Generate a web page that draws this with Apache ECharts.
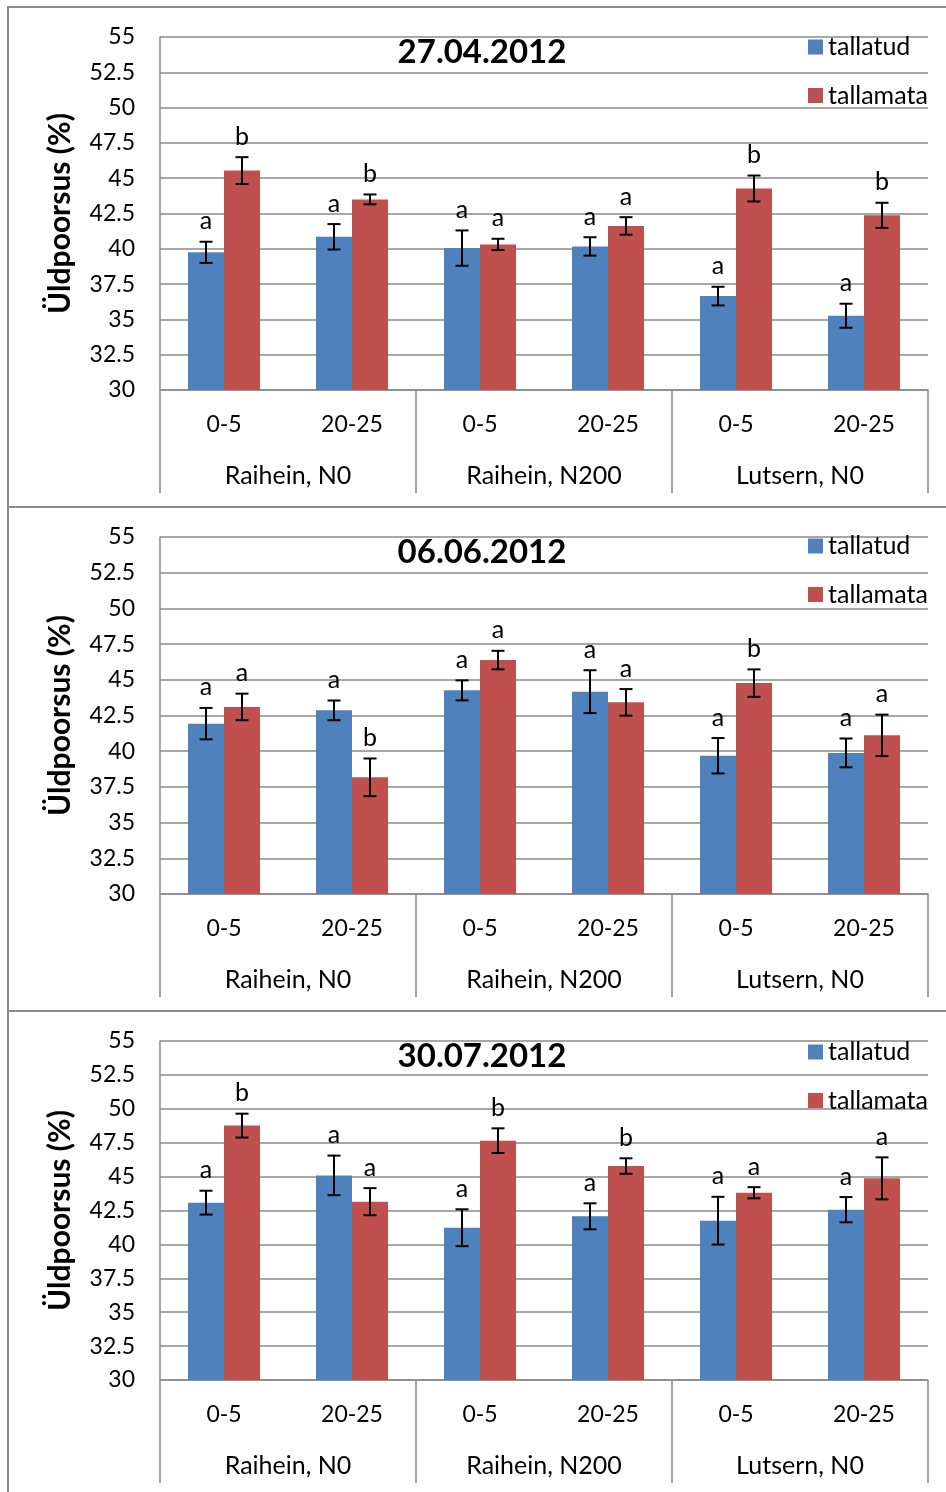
<!DOCTYPE html>
<html>
<head>
<meta charset="utf-8">
<title>Üldpoorsus</title>
<script src="https://cdn.jsdelivr.net/npm/echarts@6/dist/echarts.min.js"></script>
<style>
  html, body { margin: 0; padding: 0; background: #ffffff; }
  #chart { width: 946px; height: 1492px; }
</style>
</head>
<body>
<div id="chart"></div>
<script>
// ---- data ---------------------------------------------------------------
const depths = ['0-5', '20-25', '0-5', '20-25', '0-5', '20-25'];
const treatments = ['Raihein, N0', 'Raihein, N200', 'Lutsern, N0'];
const dates = ['27.04.2012', '06.06.2012', '30.07.2012'];
const seriesNames = ['tallatud', 'tallamata'];
const yTicks = [30, 32.5, 35, 37.5, 40, 42.5, 45, 47.5, 50, 52.5, 55];
const yTitle = 'Üldpoorsus (%)';

// 27.04.2012
const aprTallatud = [39.75, 40.85, 40.05, 40.17, 36.65, 35.26];
const aprTallatudErr = [0.75, 0.9, 1.25, 0.65, 0.66, 0.85];
const aprTallatudSig = ['a', 'a', 'a', 'a', 'a', 'a'];
const aprTallamata = [45.54, 43.5, 40.31, 41.62, 44.27, 42.37];
const aprTallamataErr = [0.95, 0.35, 0.4, 0.62, 0.92, 0.89];
const aprTallamataSig = ['b', 'b', 'a', 'a', 'b', 'b'];

// 06.06.2012
const junTallatud = [41.93, 42.86, 44.26, 44.17, 39.68, 39.88];
const junTallatudErr = [1.1, 0.69, 0.7, 1.5, 1.24, 1.01];
const junTallatudSig = ['a', 'a', 'a', 'a', 'a', 'a'];
const junTallamata = [43.1, 38.17, 46.38, 43.42, 44.77, 41.11];
const junTallamataErr = [0.93, 1.32, 0.65, 0.93, 0.96, 1.45];
const junTallamataSig = ['a', 'b', 'a', 'a', 'b', 'a'];

// 30.07.2012
const julTallatud = [43.08, 45.09, 41.23, 42.07, 41.75, 42.56];
const julTallatudErr = [0.88, 1.46, 1.36, 0.96, 1.76, 0.93];
const julTallatudSig = ['a', 'a', 'a', 'a', 'a', 'a'];
const julTallamata = [48.76, 43.15, 47.65, 45.78, 43.81, 44.87];
const julTallamataErr = [0.88, 1.0, 0.91, 0.57, 0.41, 1.55];
const julTallamataSig = ['b', 'a', 'b', 'b', 'a', 'a'];

// ---- layout & style -----------------------------------------------------
const FONT = 'Lato';
const NUM_SIZE = 23;   // tick and depth labels
const WORD_SIZE = 25;  // legend, treatment labels, letters
const BAR_W = 36;
const COLORS = ['#4F81BD', '#C0504D'];
const LINE = '#8a8a8a';

const panels = [
  { date: dates[0], top: 37,   height: 353, legendTop: 34,
    series: [[aprTallatud, aprTallatudErr, aprTallatudSig], [aprTallamata, aprTallamataErr, aprTallamataSig]] },
  { date: dates[1], top: 537,  height: 357, legendTop: 533,
    series: [[junTallatud, junTallatudErr, junTallatudSig], [junTallamata, junTallamataErr, junTallamataSig]] },
  { date: dates[2], top: 1041, height: 339, legendTop: 1039,
    series: [[julTallatud, julTallatudErr, julTallatudSig], [julTallamata, julTallamataErr, julTallamataSig]] }
];
const frames = [[7, 507], [507, 1011], [1011, 1530]];

// error bar + significance letter drawn at the bar's offset inside its band
function errorBars(sigs, side) {
  return function (params, api) {
    const i = params.dataIndex;
    const m = api.value(1), e = api.value(2);
    const hi = api.coord([i, m + e]);
    const lo = api.coord([i, m - e]);
    const x = hi[0] + side * BAR_W / 2;
    const stroke = { stroke: '#000', lineWidth: 2 };
    return {
      type: 'group',
      children: [
        { type: 'line', shape: { x1: x, y1: hi[1], x2: x, y2: lo[1] }, style: stroke },
        { type: 'line', shape: { x1: x - 6.5, y1: hi[1], x2: x + 6.5, y2: hi[1] }, style: stroke },
        { type: 'line', shape: { x1: x - 6.5, y1: lo[1], x2: x + 6.5, y2: lo[1] }, style: stroke },
        { type: 'text', x: x, y: hi[1] - 8,
          style: { text: sigs[i], align: 'center', verticalAlign: 'bottom',
                   font: WORD_SIZE + 'px ' + FONT, fill: '#000' } }
      ]
    };
  };
}

const grid = [], xAxis = [], yAxis = [], series = [], legend = [], graphic = [];

panels.forEach((p, k) => {
  grid.push({ left: 160, width: 768, top: p.top, height: p.height });

  // depth labels
  xAxis.push({
    type: 'category', gridIndex: k, data: depths, position: 'bottom',
    axisLine: { show: true, lineStyle: { color: LINE, width: 1.5 } },
    axisTick: { show: false },
    axisLabel: { margin: 23, color: '#000', fontFamily: FONT, fontSize: NUM_SIZE, interval: 0 }
  });
  // treatment labels with separators
  xAxis.push({
    type: 'category', gridIndex: k, data: treatments, position: 'bottom',
    axisLine: { show: false },
    axisTick: { show: true, length: 103, interval: 0, lineStyle: { color: LINE, width: 1.5 } },
    axisLabel: { margin: 73, color: '#000', fontFamily: FONT, fontSize: WORD_SIZE, interval: 0 }
  });

  yAxis.push({
    type: 'value', gridIndex: k,
    min: yTicks[0], max: yTicks[yTicks.length - 1], interval: yTicks[1] - yTicks[0],
    name: yTitle, nameLocation: 'middle', nameRotate: 90, nameGap: 85,
    nameTextStyle: { fontFamily: FONT, fontWeight: 'bold', fontSize: 30, color: '#000' },
    axisLine: { show: true, lineStyle: { color: LINE, width: 1.5 } },
    axisTick: { show: false },
    splitLine: { show: true, lineStyle: { color: LINE, width: 1.5 } },
    axisLabel: { margin: 25, color: '#000', fontFamily: FONT, fontSize: NUM_SIZE }
  });

  p.series.forEach((s, j) => {
    const [vals, errs, sigs] = s;
    series.push({
      type: 'bar', name: seriesNames[j], xAxisIndex: 2 * k, yAxisIndex: k,
      data: vals, barWidth: BAR_W, barGap: '0%',
      itemStyle: { color: COLORS[j] }, z: 2
    });
    series.push({
      type: 'custom', name: seriesNames[j], xAxisIndex: 2 * k, yAxisIndex: k,
      data: vals.map((v, i) => [i, v, errs[i]]),
      encode: { x: 0, y: 1 },
      renderItem: errorBars(sigs, j === 0 ? -1 : 1), z: 5, silent: true
    });
  });

  legend.push({
    data: seriesNames.map(n => ({ name: n, icon: 'rect' })),
    orient: 'vertical', left: 808, top: p.legendTop, padding: 0,
    itemWidth: 15, itemHeight: 15, itemGap: 22.5,
    textStyle: { fontFamily: FONT, fontSize: WORD_SIZE, color: '#000', lineHeight: 26 },
    selectedMode: false
  });

  graphic.push({
    type: 'text', x: 482, y: p.top + 15,
    style: { text: p.date, align: 'center', verticalAlign: 'middle',
             font: 'bold 33px ' + FONT, fill: '#000' }
  });
  graphic.push({
    type: 'rect', shape: { x: 8, y: frames[k][0], width: 960, height: frames[k][1] - frames[k][0] },
    style: { fill: 'none', stroke: LINE, lineWidth: 2 }, z: -1
  });
});

const chart = echarts.init(document.getElementById('chart'), null, { renderer: 'canvas' });
chart.setOption({
  backgroundColor: '#ffffff',
  animation: false,
  grid, xAxis, yAxis, series, legend, graphic
});
</script>
</body>
</html>
